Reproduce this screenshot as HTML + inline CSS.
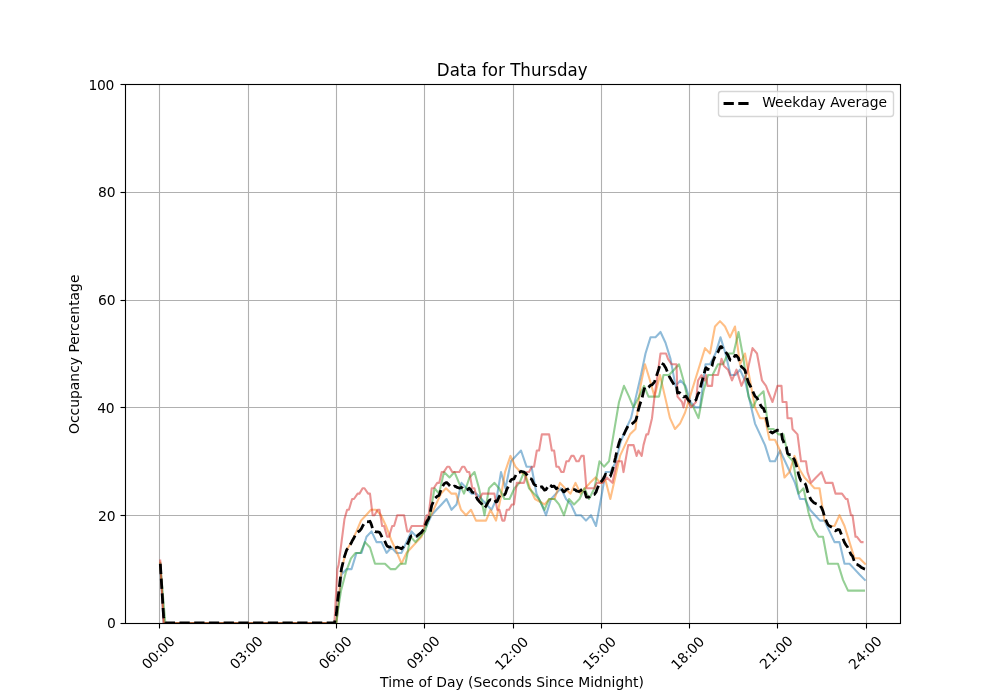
<!DOCTYPE html>
<html lang="en"><head><meta charset="utf-8"><title>Data for Thursday</title>
<style>html,body{margin:0;padding:0;background:#fff}svg{display:block}text{font-family:"DejaVu Sans","Liberation Sans",sans-serif}</style></head>
<body>
<svg width="1000" height="700" viewBox="0 0 1000 700">
<defs><clipPath id="ax"><rect x="125" y="84" width="775" height="539"/></clipPath></defs>
<rect width="1000" height="700" fill="#fff"/>
<g fill="none" stroke="#b0b0b0" stroke-width="1.111">
<path d="M159.5 84V623"/>
<path d="M248.5 84V623"/>
<path d="M336.5 84V623"/>
<path d="M424.5 84V623"/>
<path d="M513.5 84V623"/>
<path d="M601.5 84V623"/>
<path d="M689.5 84V623"/>
<path d="M777.5 84V623"/>
<path d="M866.5 84V623"/>
<path d="M125 515.5H900"/>
<path d="M125 407.5H900"/>
<path d="M125 300.5H900"/>
<path d="M125 192.5H900"/>
</g>
<g fill="none" stroke="#000" stroke-width="1.111">
<path d="M159.5 623.5v5"/>
<path d="M248.5 623.5v5"/>
<path d="M336.5 623.5v5"/>
<path d="M424.5 623.5v5"/>
<path d="M513.5 623.5v5"/>
<path d="M601.5 623.5v5"/>
<path d="M689.5 623.5v5"/>
<path d="M777.5 623.5v5"/>
<path d="M866.5 623.5v5"/>
<path d="M125.5 623.5h-5"/>
<path d="M125.5 515.5h-5"/>
<path d="M125.5 407.5h-5"/>
<path d="M125.5 300.5h-5"/>
<path d="M125.5 192.5h-5"/>
<path d="M125.5 84.5h-5"/>
</g>
<g clip-path="url(#ax)" fill="none" stroke-linejoin="round">
<path d="M160.23 563.71 L163.6 623 L336.5 623 L341.5 574.49 L346.5 569.1 L351.5 569.1 L356.5 552.93 L361.5 552.93 L366.5 536.76 L371.5 531.37 L376.5 542.15 L381.5 542.15 L386.5 552.93 L391.5 547.54 L396.5 552.93 L401.5 552.93 L406.5 542.15 L411.5 531.37 L416.5 536.76 L421.5 531.37 L426.5 525.98 L431.5 515.2 L436.5 509.81 L441.5 504.42 L446.5 499.03 L451.5 509.81 L456.5 504.42 L461.5 482.86 L466.5 488.25 L471.5 493.64 L476.5 493.64 L481.5 499.03 L486.5 504.42 L491.5 509.81 L496.5 499.03 L501 472.08 L505.5 488.25 L511 461.3 L516 455.91 L521 450.52 L526.5 466.69 L531.5 466.69 L536.5 493.64 L541.5 504.42 L546 515.2 L551 499.03 L556 493.64 L561 488.25 L566 499.03 L571 504.42 L576 515.2 L581 515.2 L586 520.59 L591 515.2 L596 525.98 L601 499.03 L605.6 472.08 L610.4 472.08 L615.5 462.38 L620.5 442.44 L626 428.96 L631 418.18 L636 396.62 L641 375.06 L645.5 353.5 L650.5 337.33 L655.5 337.33 L660.5 331.94 L665.5 342.72 L670.5 358.89 L675.5 385.84 L680.5 380.45 L685.5 385.84 L690.5 402.01 L695.5 407.4 L700 407.4 L705.5 364.28 L710 364.28 L715.5 353.5 L720.5 337.33 L725.5 353.5 L730.5 375.06 L735.5 375.06 L740 369.67 L745 380.45 L750 402.01 L755 423.57 L760 434.35 L765 445.13 L770 461.3 L775 461.3 L780 450.52 L785 461.3 L790 472.08 L795 482.86 L800 499.03 L805 499.03 L810 509.81 L815 515.2 L820 520.59 L824.5 520.59 L829.5 531.37 L834.5 542.15 L839.5 542.15 L844.5 563.71 L849.5 563.71 L854.5 569.1 L859.5 574.49 L864.8 579.88" stroke="#1f77b4" stroke-width="2.083" stroke-opacity="0.5" stroke-linecap="square"/>
<path d="M160.23 562.63 L164 623 L336.5 623 L341.5 569.1 L346.5 550.24 L351.5 542.15 L356.5 531.37 L361 520.59 L366 515.2 L371 509.81 L376 509.81 L381 515.2 L386 525.98 L391 539.46 L396 550.24 L401.5 563.71 L406.5 552.93 L411.5 547.54 L416.5 542.15 L421.5 536.76 L426.5 520.59 L431 515.2 L436 504.42 L441 493.64 L446 488.25 L451.5 493.64 L456 493.64 L461 509.81 L466 515.2 L471 509.81 L476 520.59 L481 520.59 L486 520.59 L490.5 509.81 L496 520.59 L500.5 499.03 L505 472.08 L510.5 455.91 L515.5 466.69 L520.5 472.08 L525.5 474.77 L530 488.25 L535 499.03 L540 501.73 L544.5 504.42 L549.5 499.03 L554.5 499.03 L560 482.86 L565 488.25 L570.5 493.64 L575.5 482.86 L580.5 493.64 L585 488.25 L590 482.86 L595.5 477.47 L600.5 482.86 L605.5 480.17 L610.3 499.03 L615.2 477.47 L620 455.91 L625 445.13 L630 434.35 L635.5 428.96 L640.5 385.84 L645 364.28 L650 380.45 L654.5 396.62 L660 375.06 L665 396.62 L670 418.18 L675 428.96 L680 423.57 L685 412.79 L690 396.62 L695 380.45 L700 364.28 L705 348.11 L710 353.5 L715 326.55 L720 321.16 L725 326.55 L730 337.33 L735 326.55 L740 364.28 L745 353.5 L750 380.45 L755 407.4 L760 418.18 L765 418.18 L769.5 439.74 L775 439.74 L780 450.52 L784.5 477.47 L789.5 472.08 L794.5 455.91 L799.5 469.38 L804.5 477.47 L809.5 482.86 L814.5 488.25 L819.5 488.25 L824.5 520.59 L829.5 525.98 L834.5 525.98 L839.5 515.2 L844.5 525.98 L849.5 542.15 L854.5 558.32 L859.5 558.32 L865 563.71" stroke="#ff7f0e" stroke-width="2.083" stroke-opacity="0.5" stroke-linecap="square"/>
<path d="M160.23 563.71 L165.3 623 L336 623 L341 590.66 L346 571.79 L351 558.32 L355.5 552.93 L360.5 552.93 L365 542.15 L370 547.54 L375 563.71 L380 563.71 L385 563.71 L390.5 569.1 L395.5 569.1 L400.5 563.71 L405.5 563.71 L410.5 536.76 L415.5 542.15 L420 536.76 L425 531.37 L430 515.2 L434.5 488.25 L439 493.64 L444 472.08 L449.5 477.47 L454.5 472.08 L459 482.86 L464 493.64 L469.5 477.47 L474.5 472.08 L479 488.25 L484.5 515.2 L489 488.25 L494.5 482.86 L499 488.25 L504.5 499.03 L509.5 499.03 L514.5 488.25 L519.5 482.86 L524 472.08 L529 488.25 L534 493.64 L539 499.03 L544.5 509.81 L549 499.03 L554.5 499.03 L559 504.42 L564 515.2 L569 499.03 L574 504.42 L579.5 499.03 L584.5 488.25 L589 499.03 L594.5 488.25 L599.5 461.3 L604 466.69 L609 461.3 L614 431.65 L619 402.01 L624 385.84 L629 396.62 L633.5 407.4 L639 396.62 L644 385.84 L648.5 396.62 L653.5 396.62 L659 396.62 L663.5 375.06 L669 375.06 L674 369.67 L679 364.28 L683.5 380.45 L688.5 402.01 L693.5 407.4 L698.5 418.18 L703.5 391.23 L708 375.06 L712.5 375.06 L718 364.28 L723 364.28 L728 353.5 L733.5 353.5 L738.5 331.94 L743.5 358.89 L748.5 396.62 L753 407.4 L758 396.62 L763.5 391.23 L768.5 428.96 L773.5 428.96 L778.5 434.35 L783.5 434.35 L788 455.91 L793 461.3 L798.5 493.64 L803.5 488.25 L808.5 512.5 L813.5 528.67 L818.5 536.76 L823 536.76 L828 563.71 L833 563.71 L838 563.71 L843 579.88 L848 590.66 L853 590.66 L858 590.66 L864 590.66" stroke="#2ca02c" stroke-width="2.083" stroke-opacity="0.5" stroke-linecap="square"/>
<path d="M160.23 560.48 L163.6 623 L334.4 623 L337.4 569.1 L338.6 564.79 L344.5 518.97 L347.1 509.81 L348.91 509.81 L352.11 499.03 L353.93 499.03 L357.62 493.64 L359.45 493.64 L362.62 488.25 L364.47 488.25 L368.13 493.64 L369.98 493.64 L372.63 515.2 L374.5 515.2 L377.64 509.81 L379.52 509.81 L382.14 525.98 L384.03 525.98 L387.15 536.76 L389.05 536.76 L392.16 525.98 L394.07 525.98 L397.16 515.2 L399.09 515.2 L402.17 515.2 L404.1 515.2 L407.17 531.37 L409.12 531.37 L411.68 525.98 L413.64 525.98 L416.69 525.98 L418.66 525.98 L421.69 525.98 L423.67 525.98 L426.7 515.2 L428.69 515.2 L431.7 488.25 L433.71 488.25 L437.21 482.86 L439.23 482.86 L441.71 472.08 L443.74 472.08 L447.22 466.69 L449.26 466.69 L452.23 472.08 L454.28 472.08 L457.23 472.08 L459.3 472.08 L462.24 466.69 L464.32 466.69 L467.24 472.08 L469.33 472.08 L472.25 488.25 L474.35 488.25 L477.26 499.03 L479.37 499.03 L482.26 493.64 L484.39 493.64 L487.27 493.64 L489.4 493.64 L492.27 493.64 L494.42 493.64 L497.28 509.81 L499.44 509.81 L502.29 520.59 L504.46 520.59 L506.79 509.81 L508.97 509.81 L511.8 504.42 L513.99 504.42 L516.8 482.86 L519.01 482.86 L521.81 482.86 L524.03 482.86 L526.81 472.08 L529.04 472.08 L531.82 466.69 L534.06 466.69 L536.83 450.52 L539.08 450.52 L541.83 434.35 L544.1 434.35 L546.84 434.35 L549.11 434.35 L551.84 450.52 L554.13 450.52 L556.35 466.69 L558.65 466.69 L561.36 472.08 L563.67 472.08 L566.36 461.3 L568.68 461.3 L571.37 455.91 L573.7 455.91 L576.37 461.3 L578.72 461.3 L581.38 455.91 L583.74 455.91 L586.38 488.25 L588.75 488.25 L591.89 488.25 L594.27 488.25 L596.9 482.86 L599.29 482.86 L602.8 482.86 L606.8 477.47 L612.4 482.86 L617.1 461.3 L621.8 461.3 L623.5 472.08 L628.2 445.13 L633.6 445.13 L636.6 455.91 L638.4 450.52 L641.7 455.91 L643.5 445.13 L646.4 434.35 L648.2 434.35 L652 418.18 L654.5 396.62 L660.5 353.5 L666 353.5 L668 358.89 L671.5 364.28 L676.5 364.28 L677.5 396.62 L682 402.01 L683.5 407.4 L686 396.62 L691 407.4 L696 402.01 L698 380.45 L701.5 375.06 L704.5 380.45 L706 375.06 L707.5 385.84 L712 385.84 L713 375.06 L718 375.06 L721.5 358.89 L724 365.9 L728 369.67 L732 380.45 L736.5 369.67 L741.5 385.84 L747 372.9 L752.5 348.11 L757 353.5 L762 380.45 L766 385.84 L768 391.23 L772.5 402.01 L777.5 385.84 L781.5 385.84 L782.5 402.01 L786.5 402.01 L787.5 418.18 L791.5 418.18 L792.5 428.96 L797.5 434.35 L801 461.3 L806 461.3 L807.5 472.08 L811 482.86 L816 477.47 L821.5 472.08 L825.5 482.86 L832.5 482.86 L835.5 493.64 L842 493.64 L846 499.03 L847.5 499.03 L851 515.2 L852.5 515.2 L855.5 536.76 L857 536.76 L861 542.15 L862.5 542.15" stroke="#d62728" stroke-width="2.083" stroke-opacity="0.5" stroke-linecap="square"/>
<path d="M160.23 562.63 L163.6 616.43 L164 619.2 L165.3 623 L334.4 623 L336 615.82 L336.5 612.76 L337.4 602.65 L338.6 593.49 L341 572.66 L341.5 568.66 L344.5 556.37 L346 551.81 L346.5 550.43 L347.1 549.25 L348.91 547.3 L351 543.29 L351.5 542.52 L352.11 541 L353.93 538 L355.5 534.84 L356.5 533.13 L357.62 532.05 L359.45 530.95 L360.5 529.88 L361 529.06 L361.5 528.42 L362.62 526.06 L364.47 522.96 L365 522.27 L366 521.83 L366.5 521.61 L368.13 521.77 L369.98 521.27 L370 521.31 L371 523.61 L371.5 524.9 L372.63 528.72 L374.5 531.24 L375 531.69 L376 531.81 L376.5 532 L377.64 531.81 L379.52 532.32 L380 533.19 L381 535 L381.5 536.04 L382.14 537.72 L384.03 539.76 L385 541.64 L386 543.83 L386.5 544.99 L387.15 545.97 L389.05 547.21 L390.5 546.89 L391 546.66 L391.5 546.36 L392.16 546.32 L394.07 547.86 L395.5 547.78 L396 547.61 L396.5 547.48 L397.16 547.13 L399.09 547.79 L400.5 548.27 L401.5 548.89 L402.17 548.17 L404.1 546.08 L405.5 546.42 L406.5 545.31 L407.17 544.75 L409.12 540.54 L410.5 536.84 L411.5 535.78 L411.68 535.73 L413.64 536.26 L415.5 536.76 L416.5 536.46 L416.69 536.3 L418.66 534.65 L420 533.53 L421.5 532.31 L421.69 532.05 L423.67 529.39 L425 526.42 L426.5 522.25 L426.7 521.74 L428.69 518.47 L430 513.38 L431 508.8 L431.5 506.39 L431.7 505.49 L433.71 500.85 L434.5 498.73 L436 497.39 L436.5 496.94 L437.21 496.3 L439 495.39 L439.23 494.96 L441 489.69 L441.5 488.34 L441.71 487.78 L443.74 484.49 L444 483.97 L446 482.61 L446.5 482.53 L447.22 482.99 L449.26 485.09 L449.5 485.44 L451.5 487.38 L452.23 487.32 L454.28 486.21 L454.5 486.09 L456 486.59 L456.5 487.16 L457.23 487.4 L459 487.98 L459.3 488.06 L461 487.74 L461.5 487.38 L462.24 487.83 L464 489.73 L464.32 489.67 L466 490.11 L466.5 489.98 L467.24 489.78 L469.33 488.24 L469.5 488.35 L471 490.02 L471.5 490.98 L472.25 492.23 L474.35 492.79 L474.5 492.97 L476 496.52 L476.5 497.43 L477.26 499.02 L479 501.05 L479.37 501.61 L481 503.28 L481.5 503.79 L482.26 504.58 L484.39 507.76 L484.5 507.92 L486 506.08 L486.5 505.17 L487.27 503.76 L489 500.6 L489.4 500.37 L490.5 499.74 L491.5 500.25 L492.27 500.03 L494.42 499.4 L494.5 499.49 L496 501.98 L496.5 501.97 L497.28 501.2 L499 497.08 L499.44 496.11 L500.5 494.78 L501 494 L502.29 495.08 L504.46 494.84 L504.5 494.79 L505 493.91 L505.5 493.42 L506.79 489.4 L508.97 485.12 L509.5 483.83 L510.5 480.85 L511 480.01 L511.8 479.41 L513.99 478.82 L514.5 477.71 L515.5 475.79 L516 474.69 L516.8 472.94 L519.01 472.35 L519.5 472.21 L520.5 471.62 L521 471.25 L521.81 471.47 L524 472.06 L524.03 472.11 L525.5 473.15 L526.5 474.48 L526.81 474.66 L529 478.07 L529.04 478.11 L530 478.62 L531.5 479.11 L531.82 479.64 L534 484.34 L534.06 484.47 L535 485.12 L536.5 485.57 L536.83 485.39 L539 487.44 L539.08 487.53 L540 487.25 L541.5 486.82 L541.83 486.74 L544.1 489.55 L544.5 490.04 L546 489.64 L546.84 488.23 L549 484.61 L549.11 484.49 L549.5 484.65 L551 485.66 L551.84 486.68 L554.13 486.06 L554.5 486.63 L556 488.31 L556.35 488.7 L558.65 487.07 L559 487 L560 487.04 L561 488.07 L561.36 488.74 L563.67 491.85 L564 491.96 L565 490.96 L566 489.93 L566.36 489.47 L568.68 488.78 L569 488.53 L570.5 488.96 L571 488.7 L571.37 488.62 L573.7 489.25 L574 489.48 L575.5 489.87 L576 490.54 L576.37 490.83 L578.72 491.52 L579.5 491.36 L580.5 490.85 L581 490.18 L581.38 489.77 L583.74 488.43 L584.5 490.33 L585 492.14 L586 495.8 L586.38 496.99 L588.75 497.13 L589 497.14 L590 496.11 L591 495.11 L591.89 494.93 L594.27 494.47 L594.5 494.31 L595.5 492.74 L596 492.22 L596.9 489.57 L599.29 483.78 L599.5 483.26 L600.5 482.49 L601 481.9 L602.8 479.56 L604 477.59 L605.5 474.28 L605.6 474.17 L606.8 474.62 L609 476.72 L610.3 476.39 L610.4 476.15 L612.4 470.52 L614 463.79 L615.2 458.75 L615.5 457.47 L617.1 449.88 L619 443.03 L620 440.11 L620.5 438.93 L621.8 436.38 L623.5 435.75 L624 434.05 L625 432.01 L626 429.96 L628.2 425.62 L629 425.19 L630 424.71 L631 424.52 L633.5 422.71 L633.6 422.53 L635.5 420.79 L636 419.38 L636.6 417.68 L638.4 409.64 L639 407.64 L640.5 402.6 L641 401.4 L641.7 399.63 L643.5 391.65 L644 389.72 L645 386.99 L645.5 386.63 L646.4 386.34 L648.2 387.41 L648.5 387.27 L650 385.68 L650.5 385.19 L652 384.94 L653.5 383.05 L654.5 381.8 L655.5 379.02 L659 368.36 L660 364.11 L660.5 363.02 L663.5 364.28 L665 366.71 L665.5 367.51 L666 368.46 L668 373.58 L669 375.85 L670 377.85 L670.5 378.59 L671.5 380.58 L674 384.63 L675 386.24 L675.5 386.65 L676.5 385.84 L677.5 393.12 L679 392.35 L680 393.01 L680.5 393.21 L682 394.6 L683.5 396.89 L685 396.49 L685.5 396.22 L686 396.22 L688.5 400.26 L690 401.47 L690.5 401.88 L691 402.01 L693.5 400.66 L695 400.26 L695.5 400.12 L696 399.85 L698 393.93 L698.5 393.6 L700 389.79 L701.5 383.04 L703.5 375.7 L704.5 372.48 L705 370.2 L705.5 368.46 L706 367.69 L707.5 369.44 L708 369.13 L710 369.67 L712 365.99 L712.5 363.73 L713 361.22 L715 356.56 L715.5 355.94 L718 352.02 L720 347.55 L720.5 346.7 L721.5 346.63 L723 349.3 L724 350.54 L725 351.31 L725.5 351.83 L728 355.12 L730 359.7 L730.5 360.3 L732 360.51 L733.5 358.8 L735 355.48 L735.5 355.58 L736.5 355.49 L738.5 358.12 L740 363.74 L741.5 366.98 L743.5 368.49 L745 370.44 L747 377.89 L748.5 382.67 L750 385.51 L752.5 390.25 L753 391.92 L755 396.29 L757 397.97 L758 399.85 L760 404.21 L762 407.5 L763.5 408.45 L765 412.59 L766 416.82 L768 425.95 L768.5 428.19 L769.5 430.8 L770 431.5 L772.5 433 L773.5 432.19 L775 431.39 L777.5 430.04 L778.5 430.31 L780 430.31 L781.5 433.36 L782.5 439.44 L783.5 441.48 L784.5 444.71 L785 445.44 L786.5 447.65 L787.5 453.16 L788 453.89 L789.5 454.7 L790 454.7 L791.5 454.7 L792.5 457.39 L793 457.53 L794.5 459.73 L795 461.21 L797.5 469.26 L798.5 474.14 L799.5 477.28 L800 478.71 L801 480.77 L803.5 481.11 L804.5 482.73 L805 483.46 L806 485.49 L807.5 491.21 L808.5 494.01 L809.5 496.39 L810 497.59 L811 499.7 L813.5 502.4 L814.5 503.07 L815 503.28 L816 503.68 L818.5 504.75 L819.5 504.78 L820 505.6 L821.5 507.65 L823 511.09 L824.5 516.55 L825.5 519.38 L828 524.77 L829.5 525.98 L832.5 527.6 L833 528.31 L834.5 530.47 L835.5 530.83 L838 529.48 L839.5 529.89 L842 535.95 L843 538.71 L844.5 542.45 L846 544.98 L847.5 547 L848 548.25 L849.5 551.2 L851 554.55 L852.5 556.16 L853 557.6 L854.5 561.92 L855.5 563.98 L857 564.38 L858 564.99 L859.5 565.9 L861 567.15 L862.5 567.9 L864 568.65 L864.8 569.05 L865 569.1" stroke="#000" stroke-width="2.778" stroke-dasharray="10.278 4.444" stroke-dashoffset="13.44" stroke-linecap="butt"/>
</g>
<rect x="125.5" y="84.5" width="775" height="539" fill="none" stroke="#000" stroke-width="1.111"/>
<rect x="718.5" y="91.5" width="175" height="25" rx="2.78" fill="#fff" fill-opacity="0.8" stroke="#ccc" stroke-opacity="0.8" stroke-width="1.389"/>
<path d="M723.56 103.5H751.34" fill="none" stroke="#000" stroke-width="2.778" stroke-dasharray="10.278 4.444"/>
<g fill="#000" style='font-family:"DejaVu Sans","Liberation Sans",sans-serif'>
<text x="147.66" y="669.99" font-size="13.89" letter-spacing="-0.1" transform="rotate(-45 147.66 669.99)">00:00</text>
<text x="235.71" y="669.99" font-size="13.89" letter-spacing="-0.1" transform="rotate(-45 235.71 669.99)">03:00</text>
<text x="324.76" y="669.99" font-size="13.89" letter-spacing="-0.1" transform="rotate(-45 324.76 669.99)">06:00</text>
<text x="412.56" y="669.99" font-size="13.89" transform="rotate(-45 412.56 669.99)">09:00</text>
<text x="500.86" y="670.99" font-size="13.89" transform="rotate(-45 500.86 670.99)">12:00</text>
<text x="588.66" y="670.74" font-size="13.89" transform="rotate(-45 588.66 670.74)">15:00</text>
<text x="676.96" y="670.74" font-size="13.89" transform="rotate(-45 676.96 670.74)">18:00</text>
<text x="765.51" y="669.99" font-size="13.89" transform="rotate(-45 765.51 669.99)">21:00</text>
<text x="854.56" y="670.24" font-size="13.89" transform="rotate(-45 854.56 670.24)">24:00</text>
<text x="512" y="686.64" font-size="13.89" text-anchor="middle">Time of Day (Seconds Since Midnight)</text>
<text x="115.78" y="628.28" font-size="13.89" text-anchor="end">0</text>
<text x="115.28" y="521.48" font-size="13.89" text-anchor="end" letter-spacing="-0.2">20</text>
<text x="114.03" y="412.68" font-size="13.89" text-anchor="end" letter-spacing="-0.5">40</text>
<text x="115.28" y="304.88" font-size="13.89" text-anchor="end" letter-spacing="-0.2">60</text>
<text x="115.28" y="197.08" font-size="13.89" text-anchor="end" letter-spacing="-0.2">80</text>
<text x="114.03" y="90.28" font-size="13.89" text-anchor="end" letter-spacing="-0.35">100</text>
<text x="79.32" y="354.25" font-size="13.89" text-anchor="middle" transform="rotate(-90 79.32 354.25)">Occupancy Percentage</text>
<text x="0" y="0" font-size="16.67" text-anchor="middle" transform="translate(512.25 75.67) scale(1 1.065)">Data for Thursday</text>
<text x="762.2" y="107.05" font-size="13.89">Weekday Average</text>
</g>
</svg>
</body></html>
